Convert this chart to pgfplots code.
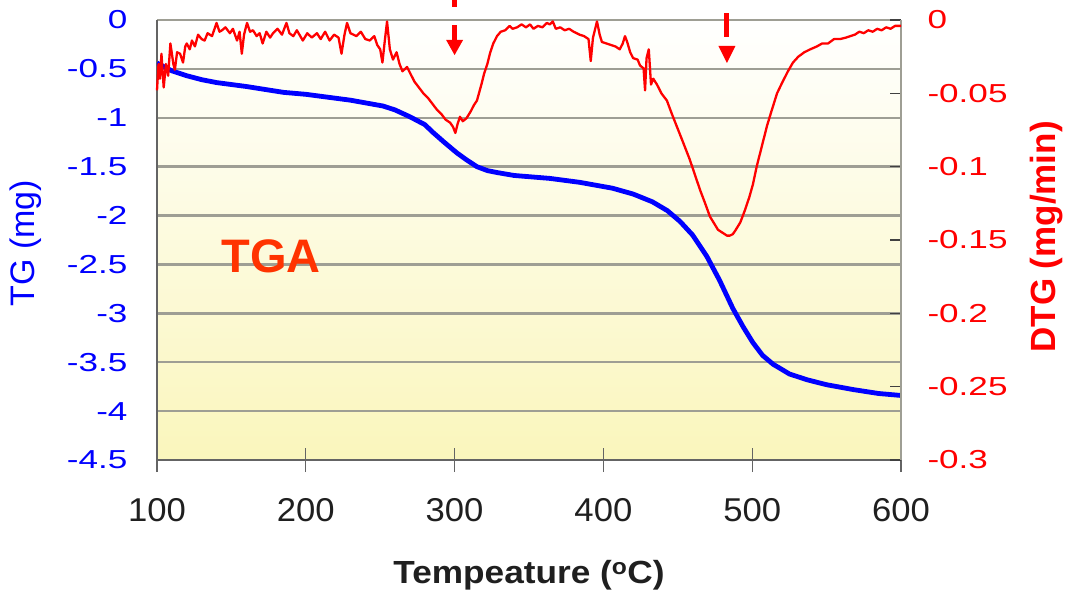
\documentclass[border=0pt]{standalone}
\usepackage{fontspec}
\setmainfont{Liberation Sans}
\usepackage{graphicx}
\usepackage{pgfplots}
\usepackage{pgfplotstable}
\pgfplotsset{compat=1.18}
\usetikzlibrary{arrows.meta}

\definecolor{tgblue}{RGB}{0,0,255}
\definecolor{dtgred}{RGB}{255,0,0}
\definecolor{tgaorange}{RGB}{255,51,0}
\definecolor{gridgray}{RGB}{158,158,148}
\definecolor{axisgray}{RGB}{100,100,100}
\definecolor{paleyellow}{RGB}{250,246,188}

% Mass (TG) in mg against temperature
\pgfplotstableread{
T      tg
100   -0.44
105   -0.48
110   -0.52
120   -0.57
130   -0.61
140   -0.64
160   -0.68
185   -0.74
200   -0.76
230   -0.82
252   -0.88
260   -0.92
270   -0.99
280   -1.07
285.5 -1.15
293   -1.25
301.6 -1.36
308   -1.43
315   -1.50
322   -1.54
328.5 -1.56
340   -1.59
364   -1.62
384   -1.66
406   -1.72
420   -1.78
433   -1.86
443   -1.95
451.5 -2.06
460   -2.20
469.6 -2.42
478   -2.66
487   -2.95
494   -3.14
500.5 -3.30
507   -3.43
514   -3.52
525   -3.62
537   -3.68
550   -3.73
568   -3.78
585   -3.82
600   -3.84
}\tgdata

% Derivative (DTG) in mg/min against temperature
\pgfplotstableread{
T      dtg
100   -0.048
101   -0.030
102   -0.040
103   -0.023
104.5 -0.046
106   -0.030
107.5 -0.038
109   -0.016
111   -0.030
112   -0.034
113.5 -0.022
115.5 -0.023
117.5 -0.029
119   -0.018
120   -0.016
122   -0.020
123.5 -0.014
125.5 -0.018
127.6 -0.010
130   -0.013
132   -0.014
134   -0.009
137   -0.011
139   -0.005
140   -0.002
142   -0.008
143.7 -0.007
146   -0.005
149   -0.009
151   -0.006
153.8 -0.014
155.5 -0.008
157   -0.023
158.5 -0.010
160.5 -0.002
162.5 -0.008
164.5 -0.007
167   -0.011
169   -0.009
171   -0.016
173.5 -0.008
176   -0.012
178   -0.009
181   -0.006
184   -0.010
187   -0.002
189   -0.009
191.6 -0.011
194   -0.007
198   -0.014
201   -0.009
204   -0.012
207.5 -0.009
210   -0.013
213   -0.008
216   -0.014
219   -0.010
222   -0.012
224   -0.023
226   -0.010
227.7 -0.002
230   -0.009
234   -0.011
237   -0.008
240   -0.013
243   -0.014
246   -0.011
248   -0.017
250   -0.020
251.5 -0.029
253   -0.015
254.6 -0.001
256.5 -0.020
258.6 -0.027
261   -0.022
263   -0.030
265   -0.035
268   -0.032
270   -0.036
273   -0.042
276   -0.046
279   -0.050
282   -0.053
285   -0.057
288   -0.061
291   -0.064
294   -0.068
297   -0.070
299   -0.073
300.5 -0.077
302   -0.071
303.6 -0.066
305.5 -0.069
308   -0.067
311   -0.062
313   -0.058
315   -0.055
318   -0.044
320   -0.036
322   -0.030
324   -0.022
326   -0.016
328.5 -0.011
331   -0.008
334   -0.007
337   -0.004
339   -0.006
342   -0.005
345   -0.003
348   -0.005
350.7 -0.003
353   -0.006
356   -0.004
359   -0.005
362   -0.002
364   -0.003
366   -0.001
368   -0.006
371   -0.005
374   -0.007
377   -0.006
380   -0.008
384   -0.010
387   -0.011
390   -0.013
391.5 -0.028
393   -0.012
395.7 -0.001
397.5 -0.010
399   -0.015
402   -0.016
405   -0.017
408   -0.018
411   -0.020
413   -0.016
414.5 -0.011
416   -0.015
418   -0.022
420   -0.026
423   -0.027
424.6 -0.031
427   -0.033
428   -0.048
429   -0.026
430.5 -0.020
432   -0.044
433.5 -0.040
436   -0.044
439   -0.050
442.7 -0.055
446   -0.064
449.5 -0.073
453   -0.082
458   -0.095
461   -0.104
465   -0.116
468   -0.124
471.6 -0.134
474   -0.138
477   -0.143
480   -0.145
483   -0.147
485   -0.147
487   -0.146
489   -0.143
492   -0.138
495   -0.130
498   -0.121
500.5 -0.112
503   -0.100
506   -0.088
508   -0.080
510   -0.072
513   -0.062
516.7 -0.050
520   -0.043
524   -0.035
527.4 -0.029
531   -0.025
535   -0.022
539   -0.020
543.5 -0.018
547   -0.016
551   -0.016
555   -0.013
559   -0.013
563   -0.012
566   -0.011
569   -0.010
572   -0.008
575   -0.009
578   -0.007
581   -0.008
584   -0.006
587   -0.007
590   -0.005
593   -0.006
596   -0.004
600   -0.004
}\dtgdata

\newcommand{\ticksize}{\fontsize{26}{30}\selectfont}
% widened tick numbers on the two value axes
\newcommand{\hs}[1]{\scalebox{1.35}[1]{#1}}
\newcommand{\xs}[1]{\scalebox{1.05}[1]{#1}}

\begin{document}
\begin{tikzpicture}
% TG axis (left)
\begin{axis}[
  at={(0pt,0pt)}, anchor=south west,
  scale only axis, width=744pt, height=440pt,
  xmin=100, xmax=600, ymin=-4.5, ymax=0,
  axis x line*=bottom, axis y line*=left,
  xtick align=center, major tick length=24pt,
  axis line style={axisgray, line width=1.3pt},
  xtick={100,200,300,400,500,600},
  xticklabels={\xs{100},\xs{200},\xs{300},\xs{400},\xs{500},\xs{600}},
  ytick={0,-0.5,-1,-1.5,-2,-2.5,-3,-3.5,-4,-4.5},
  yticklabels={\hs{0},\hs{-0.5},\hs{-1},\hs{-1.5},\hs{-2},\hs{-2.5},\hs{-3},\hs{-3.5},\hs{-4},\hs{-4.5}},
  xtick style={axisgray, line width=1.3pt},
  ytick style={draw=none},
  ymajorgrids, grid style={gridgray, line width=2.4pt},
  axis background/.style={top color=white, bottom color=paleyellow},
  x tick label style={font=\fontsize{33}{36}\selectfont, text=black!88, yshift=-23pt},
  y tick label style={font=\ticksize, text=tgblue, xshift=-26pt},
  xlabel={\scalebox{1.1}[1]{Tempeature (\textsuperscript{o}C)}},
  xlabel style={font=\fontsize{32}{36}\selectfont\bfseries, text=black!88,
    at={(axis description cs:0.5,-0.262)}, anchor=center},
  ylabel={TG (mg)},
  ylabel style={font=\fontsize{34}{38}\selectfont, text=tgblue,
    at={(axis description cs:-0.176,0.493)}, anchor=center},
]
\addplot[tgblue, line width=4.8pt, line join=round] table[x=T, y=tg] {\tgdata};
\node[font=\fontsize{47}{50}\selectfont\bfseries, text=tgaorange]
  at (axis cs:176.6,-2.42) {TGA};
\end{axis}

% DTG axis (right)
\begin{axis}[
  at={(0pt,0pt)}, anchor=south west,
  scale only axis, width=744pt, height=440pt,
  xmin=100, xmax=600, ymin=-0.3, ymax=0,
  axis x line=none, axis y line*=right,
  ytick align=inside, major tick length=11pt,
  axis line style={gridgray, line width=2.5pt},
  ytick={0,-0.05,-0.1,-0.15,-0.2,-0.25,-0.3},
  yticklabels={\hs{0},\hs{-0.05},\hs{-0.1},\hs{-0.15},\hs{-0.2},\hs{-0.25},\hs{-0.3}},
  ytick style={black!75, line width=1.3pt},
  y tick label style={font=\ticksize, text=dtgred, xshift=23pt},
  ylabel={DTG (mg/min)},
  ylabel style={font=\fontsize{35}{38}\selectfont\bfseries, text=dtgred,
    at={(axis description cs:1.196,0.507)}, anchor=center},
  clip=false,
]
\addplot[dtgred, line width=2.3pt, line join=round] table[x=T, y=dtg] {\dtgdata};
% peak markers
\fill[dtgred] ([xshift=-2.5pt]axis cs:300,0.01364) rectangle ([xshift=2.5pt]axis cs:300,0.00886);
\fill[dtgred] ([xshift=-2.5pt]axis cs:300,-0.0034) rectangle ([xshift=2.5pt]axis cs:300,-0.0136);
\fill[dtgred] ([xshift=-8.5pt]axis cs:300,-0.0136) -- ([xshift=8.5pt]axis cs:300,-0.0136) -- (axis cs:300,-0.0239) -- cycle;
\fill[dtgred] ([xshift=-2.5pt]axis cs:483,0.0048) rectangle ([xshift=2.5pt]axis cs:483,-0.0116);
\fill[dtgred] ([xshift=-8.5pt]axis cs:483,-0.0177) -- ([xshift=8.5pt]axis cs:483,-0.0177) -- (axis cs:483,-0.0293) -- cycle;
\end{axis}
\pgfresetboundingbox
\path[use as bounding box] (-157pt,-135pt) rectangle (909pt,460pt);
\end{tikzpicture}
\end{document}
